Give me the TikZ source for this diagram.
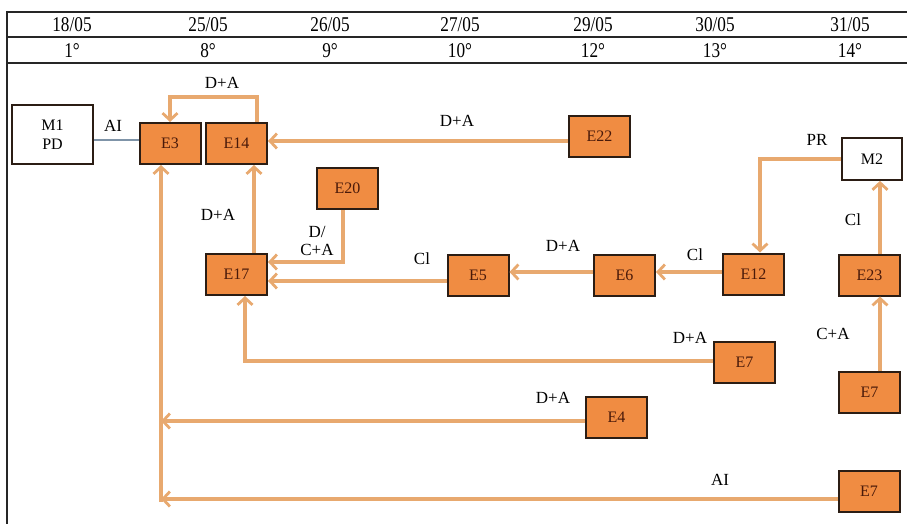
\documentclass[tikz,border=0pt]{standalone}
\usepackage{fontspec}
\setmainfont{Liberation Serif}
\usetikzlibrary{arrows.meta}
\definecolor{boxfill}{HTML}{F08C42}
\definecolor{boxline}{HTML}{2B1D14}
\definecolor{boxtext}{HTML}{4A1A0A}
\definecolor{conncol}{HTML}{E8A96F}
\definecolor{aicol}{HTML}{7F94A8}
\tikzset{
  ebox/.style={draw=boxline, line width=2pt, fill=boxfill, minimum width=61pt, minimum height=41pt, inner sep=0pt, font=\fontsize{16}{18}\selectfont, text=boxtext},
  mbox/.style={draw=boxline, line width=1.8pt, fill=white, inner sep=0pt, font=\fontsize{16}{19}\selectfont, align=center},
  conn/.style={draw=conncol, line width=3.6pt, -{Straight Barb[length=7pt,width=15pt,line width=2.8pt]}},
  lbl/.style={font=\fontsize{17}{18}\selectfont, inner sep=0pt, align=center},
  hdr/.style={font=\fontsize{21}{22}\selectfont, inner sep=0pt},
  frame/.style={draw=black!85, line width=2pt}
}
\begin{document}
\begin{tikzpicture}[x=1pt,y=-1pt]
\useasboundingbox (0,0) rectangle (907,524);
% header frame
\draw[frame] (7,12) -- (907,12);
\draw[frame] (7,37) -- (907,37);
\draw[frame] (7,63) -- (907,63);
\draw[frame] (7,11) -- (7,524);
\foreach \x/\d/\g [count=\i] in {72/18\slash 05/1°, 208/25\slash 05/8°, 330/26\slash 05/9°, 460/27\slash 05/10°, 593/29\slash 05/12°, 715/30\slash 05/13°, 850/31\slash 05/14°}{
  \node[hdr] (d\i) at (\x,24.5) {\scalebox{0.82}[1]{\d}};
  \node[hdr] (g\i) at (\x,50.5) {\scalebox{0.82}[1]{\g}};
}
% boxes
\node[mbox, minimum width=81pt, minimum height=59pt] (M1) at (52.5,134.5) {M1\\PD};
\node[mbox, minimum width=60pt, minimum height=42pt] (M2) at (872,159) {M2};
\node[ebox] (E3) at (170,143.5) {E3};
\node[ebox] (E14) at (236.5,143.5) {E14};
\node[ebox] (E20) at (347.5,188.5) {E20};
\node[ebox] (E17) at (236.5,274.5) {E17};
\node[ebox] (E22) at (599.5,136.5) {E22};
\node[ebox] (E12) at (753.5,274) {E12};
\node[ebox] (E6) at (624.5,275) {E6};
\node[ebox] (E5) at (478,275) {E5};
\node[ebox] (E23) at (869.5,275) {E23};
\node[ebox] (E7a) at (744.5,362.5) {E7};
\node[ebox] (E7b) at (869.5,392.5) {E7};
\node[ebox] (E4) at (616.5,417.5) {E4};
\node[ebox] (E7c) at (869,491.5) {E7};
% connectors
\draw[draw=aicol, line width=1.4pt] (M1.east |- 0,140) -- (E3.west |- 0,140);
\node[lbl] (lAI1) at (113,126) {AI};
\draw[conn] ([xshift=20.5pt]E14.north) |- (E3.north |- 0,97) -- (E3.north);
\node[lbl] (lDA1) at (222,83) {D+A};
\draw[conn] (E22.west |- 0,141) -- (E14.east |- 0,141);
\node[lbl] (lDA2) at (457,121) {D+A};
\draw[conn] ([xshift=17.5pt]E17.north) -- ([xshift=17.5pt]E14.south);
\node[lbl] (lDA3) at (218,215) {D+A};
\draw[conn] ([xshift=-4.5pt]E20.south) |- (E17.east |- 0,262);
\node[lbl] (lDC) at (317,241) {D/\\C+A};
\draw[conn] (E5.west |- 0,281) -- (E17.east |- 0,281);
\node[lbl] (lCl1) at (422,259) {Cl};
\draw[conn] (E6.west |- 0,272) -- (E5.east |- 0,272);
\node[lbl] (lDA4) at (563,246) {D+A};
\draw[conn] (E12.west |- 0,272) -- (E6.east |- 0,272);
\node[lbl] (lCl2) at (695,255) {Cl};
\draw[conn] (M2.west |- 0,159) -| ([xshift=6.5pt]E12.north);
\node[lbl] (lPR) at (817,140) {PR};
\draw[conn] ([xshift=10.5pt]E23.north) -- ([xshift=8pt]M2.south);
\node[lbl] (lCl3) at (853,220) {Cl};
\draw[conn] ([xshift=10.5pt]E7b.north) -- ([xshift=10.5pt]E23.south);
\node[lbl] (lCA) at (833,334) {C+A};
\draw[conn] (E7a.west |- 0,361) -| ([xshift=8.5pt]E17.south);
\node[lbl] (lDA5) at (690,338) {D+A};
\coordinate (v4) at (161,421);
\coordinate (v7) at (161,499);
\draw[conn] (E4.west |- 0,421) -- (v4);
\node[lbl] (lDA6) at (553,398) {D+A};
\draw[conn] (E7c.west |- 0,499) -- (v7);
\node[lbl] (lAI2) at (720,480) {AI};
\draw[conn] (161,502) -- ([xshift=-9pt]E3.south);
\end{tikzpicture}
\end{document}
